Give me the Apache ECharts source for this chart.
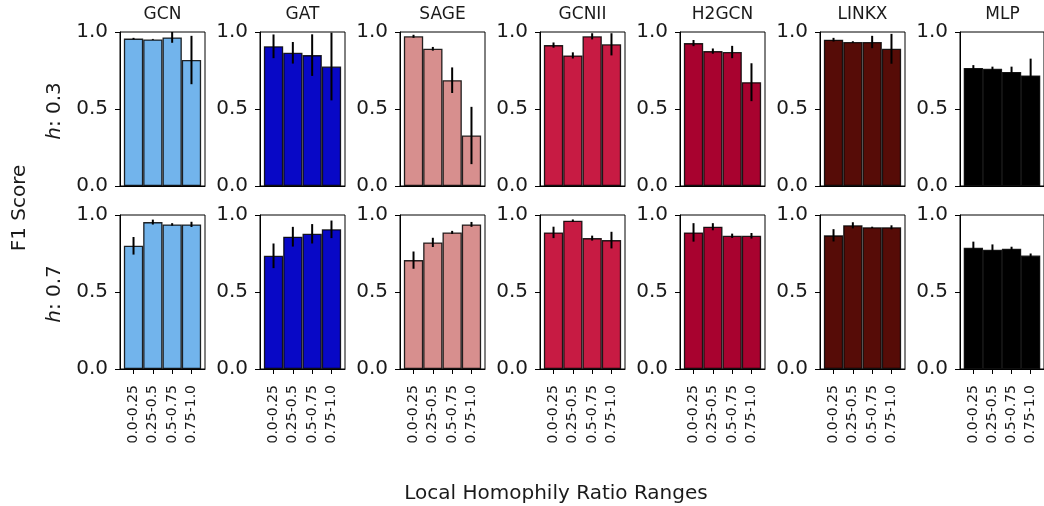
<!DOCTYPE html>
<html>
<head>
<meta charset="utf-8">
<script src="https://cdn.jsdelivr.net/npm/echarts@6/dist/echarts.min.js"></script>
<style>
  html, body { margin: 0; padding: 0; background: #fff; }
  #chart { width: 1044px; height: 506px; }
</style>
</head>
<body>
<div id="chart"></div>
<script>
// models (one panel per model) and local homophily ranges (x categories)
const models = ['GCN', 'GAT', 'SAGE', 'GCNII', 'H2GCN', 'LINKX', 'MLP']
const ranges = ['0.0-0.25', '0.25-0.5', '0.5-0.75', '0.75-1.0']
const modelColors = ['#72b4ec', '#0808c6', '#d78f8e', '#c71b43', '#a8022f', '#560c07', '#000000']
const rowNames = ['0.3', '0.7']

// F1 score, h: 0.3
const meanH03 = [
  [0.957, 0.952, 0.965, 0.818],
  [0.907, 0.865, 0.850, 0.776],
  [0.972, 0.891, 0.687, 0.328],
  [0.915, 0.848, 0.972, 0.920],
  [0.928, 0.876, 0.870, 0.674],
  [0.950, 0.935, 0.935, 0.891],
  [0.767, 0.761, 0.741, 0.717]
]
const errH03 = [
  [0.005, 0.003, 0.035, 0.157],
  [0.077, 0.070, 0.135, 0.220],
  [0.010, 0.012, 0.083, 0.186],
  [0.017, 0.020, 0.020, 0.072],
  [0.020, 0.017, 0.040, 0.123],
  [0.012, 0.005, 0.040, 0.097],
  [0.018, 0.014, 0.034, 0.110]
]
// F1 score, h: 0.7
const meanH07 = [
  [0.800, 0.954, 0.939, 0.939],
  [0.735, 0.859, 0.878, 0.907],
  [0.707, 0.822, 0.887, 0.939],
  [0.887, 0.963, 0.850, 0.837],
  [0.887, 0.924, 0.865, 0.865],
  [0.868, 0.933, 0.920, 0.920],
  [0.787, 0.774, 0.781, 0.737]
]
const errH07 = [
  [0.057, 0.016, 0.008, 0.017],
  [0.080, 0.064, 0.063, 0.057],
  [0.056, 0.030, 0.010, 0.016],
  [0.037, 0.008, 0.016, 0.054],
  [0.060, 0.023, 0.014, 0.018],
  [0.040, 0.020, 0.004, 0.013],
  [0.040, 0.035, 0.013, 0.013]
]

const font = 'DejaVu Sans'
const rows = [
  { mean: meanH03, err: errH03, top: 32 },
  { mean: meanH07, err: errH07, top: 215 }
]
const panelLeft = 120, panelStep = 140, panelW = 85, panelH = 154

let chart = echarts.init(document.getElementById('chart'))

let grid = [], xAxis = [], yAxis = [], series = [], graphic = []

rows.forEach((row, r) => {
  models.forEach((m, c) => {
    let idx = r * models.length + c
    grid.push({
      left: panelLeft + panelStep * c, top: row.top, width: panelW, height: panelH,
      show: true, borderColor: '#000', borderWidth: 1, backgroundColor: 'transparent'
    })
    xAxis.push({
      type: 'value', gridIndex: idx, min: -0.7, max: 3.7,
      splitLine: { show: false },
      axisLine: { show: true, onZero: false, lineStyle: { color: '#000', width: 1 } },
      axisTick: { show: r === 1, customValues: [0, 1, 2, 3], length: 5, lineStyle: { color: '#000' } },
      axisLabel: {
        show: r === 1, customValues: [0, 1, 2, 3], rotate: 90, margin: 16,
        formatter: v => ranges[Math.round(v)] || '',
        fontFamily: font, fontSize: 14, color: '#1a1a1a'
      }
    })
    yAxis.push({
      type: 'value', gridIndex: idx, min: 0, max: 1, interval: 0.5,
      splitLine: { show: false },
      axisLine: { show: true, onZero: false, lineStyle: { color: '#000', width: 1 } },
      axisTick: { show: true, length: 5, lineStyle: { color: '#000' } },
      axisLabel: {
        formatter: v => v.toFixed(1), margin: 12,
        fontFamily: font, fontSize: 20, color: '#1a1a1a'
      }
    })
    series.push({
      type: 'bar', xAxisIndex: idx, yAxisIndex: idx,
      barWidth: panelW / 4.4,
      data: row.mean[c].map((v, i) => [i, v]),
      itemStyle: { color: modelColors[c], borderColor: 'rgba(0,0,0,0.85)', borderWidth: 1.3 },
      silent: true, animation: false
    })
    // error bars
    series.push({
      type: 'custom', xAxisIndex: idx, yAxisIndex: idx, clip: true,
      data: row.mean[c].map((v, i) => [i, v, row.err[c][i]]),
      renderItem: (params, api) => {
        let x = api.value(0), y = api.value(1), e = api.value(2)
        let p1 = api.coord([x, y - e]), p2 = api.coord([x, y + e])
        return {
          type: 'line',
          shape: { x1: p1[0], y1: p1[1], x2: p2[0], y2: p2[1] },
          style: { stroke: '#000', lineWidth: 2 }
        }
      },
      z: 5, silent: true, animation: false
    })
    if (r === 0) {
      graphic.push({
        type: 'text', x: panelLeft + panelStep * c + panelW / 2, y: 15,
        style: { text: m, fontFamily: font, fontSize: 17, fill: '#1a1a1a', align: 'center', verticalAlign: 'middle' }
      })
    }
  })
  // row label  h: 0.3 / h: 0.7
  graphic.push({
    type: 'text', x: 55, y: row.top + panelH / 2 + 2, rotation: Math.PI / 2,
    style: {
      text: '{i|h}: ' + rowNames[r], fontFamily: font, fontSize: 20, fill: '#1a1a1a',
      align: 'center', verticalAlign: 'middle',
      rich: { i: { fontStyle: 'italic', fontFamily: font, fontSize: 20, fill: '#1a1a1a' } }
    }
  })
})

graphic.push({
  type: 'text', x: 20, y: 208, rotation: Math.PI / 2,
  style: { text: 'F1 Score', fontFamily: font, fontSize: 20, fill: '#1a1a1a', align: 'center', verticalAlign: 'middle' }
})
graphic.push({
  type: 'text', x: 556, y: 494,
  style: { text: 'Local Homophily Ratio Ranges', fontFamily: font, fontSize: 20, fill: '#1a1a1a', align: 'center', verticalAlign: 'middle' }
})

chart.setOption({
  animation: false,
  grid: grid,
  xAxis: xAxis,
  yAxis: yAxis,
  series: series,
  graphic: graphic
})
</script>
</body>
</html>
